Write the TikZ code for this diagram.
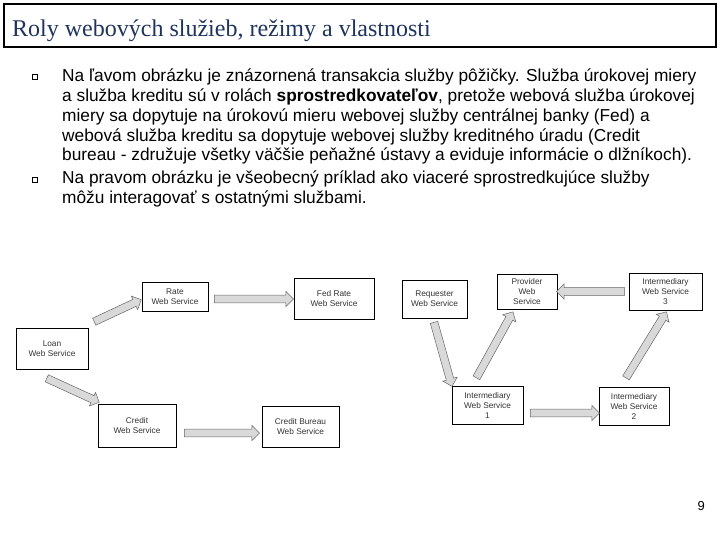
\documentclass[tikz,border=0pt]{standalone}
\usepackage{fontspec}
\setmainfont{Liberation Serif}
\setsansfont{Liberation Sans}
\usetikzlibrary{calc,shapes.arrows}

\definecolor{titleblue}{RGB}{31,52,92}

% block arrow between two points, drawn as a single arrow node
\newcommand{\blkarrow}[2]{%
  \path let \p1=#1, \p2=#2, \n1={veclen(\x2-\x1,\y2-\y1)},
    \n2={atan2(\y2-\y1,\x2-\x1)} in
    ($(\p1)!.5!(\p2)$) node[thickarrow, minimum height=\n1, rotate=\n2] {};}

\begin{document}
\begin{tikzpicture}[x=1pt,y=-1pt,
    svc/.style={draw, line width=1pt, fill=white, align=center, inner sep=1pt,
      font=\sffamily\fontsize{8.3}{10}\selectfont, text=black!80},
    thickarrow/.style={single arrow, draw=black!60, fill=gray!30, line width=0.5pt,
      inner xsep=0pt, inner ysep=3.6pt, single arrow head extend=3.6pt},
    bullet/.style={draw, line width=0.6pt, minimum size=4.5pt, inner sep=0pt}]
    \useasboundingbox (0,0) rectangle (720,540);

    % title
    \draw[line width=1.5pt] (4,4) rectangle (716,47);
    \node[anchor=base west, inner sep=0pt, text=titleblue,
      font=\fontsize{24}{28}\selectfont] (title) at (12,37)
      {Roly webových služieb, režimy a vlastnosti};

    % bullets
    \node[bullet] (b1) at (35,77) {};
    \node[bullet] (b2) at (35,180) {};
    \node[anchor=north west, inner sep=0pt, align=left,
      font=\sffamily\fontsize{17.3}{19.7}\selectfont] (t1) at (62,69)
      {Na ľavom obrázku je znázornená transakcia služby pôžičky. Služba úrokovej miery\\
       a služba kreditu sú v rolách \textbf{sprostredkovateľov}, pretože webová služba úrokovej\\
       miery sa dopytuje na úrokovú mieru webovej služby centrálnej banky (Fed) a\\
       webová služba kreditu sa dopytuje webovej služby kreditného úradu (Credit\\
       bureau - združuje všetky väčšie peňažné ústavy a eviduje informácie o dlžníkoch).};
    \node[anchor=north west, inner sep=0pt, align=left,
      font=\sffamily\fontsize{17.3}{19.7}\selectfont] (t2) at (62,171)
      {Na pravom obrázku je všeobecný príklad ako viaceré sprostredkujúce služby\\
       môžu interagovať s ostatnými službami.};

    % left picture: loan transaction
    \node[svc, minimum width=72pt, minimum height=41pt] (loan) at (52,348.5) {Loan\\Web Service};
    \node[svc, minimum width=66pt, minimum height=29pt] (rate) at (175,296.5) {Rate\\Web Service};
    \node[svc, minimum width=80pt, minimum height=41pt] (fed) at (334,299) {Fed Rate\\Web Service};
    \node[svc, minimum width=78pt, minimum height=43pt] (credit) at (137,425.5) {Credit\\Web Service};
    \node[svc, minimum width=77pt, minimum height=41pt] (bureau) at (300.5,426.5) {Credit Bureau\\Web Service};

    \blkarrow{($(loan.north east)+(4,-5)$)}{($(rate.west)+(-2,4)$)}
    \blkarrow{($(rate.east)+(4,2.5)$)}{($(fed.west)+(-2,0)$)}
    \blkarrow{($(loan.south)+(-7,8)$)}{($(credit.north west)+(0,-2)$)}
    \blkarrow{($(credit.east)+(6,7.5)$)}{($(bureau.west)+(-4,6.5)$)}

    % right picture: intermediaries
    \node[svc, minimum width=65pt, minimum height=38pt] (req) at (434.5,299) {Requester\\Web Service};
    \node[svc, minimum width=60pt, minimum height=35pt] (prov) at (527,291.5) {Provider\\Web\\Service};
    \node[svc, minimum width=73pt, minimum height=37pt] (im3) at (665.5,291.5) {Intermediary\\Web Service\\3};
    \node[svc, minimum width=71pt, minimum height=38pt] (im1) at (487.5,405) {Intermediary\\Web Service\\1};
    \node[svc, minimum width=70pt, minimum height=38pt] (im2) at (634,406) {Intermediary\\Web Service\\2};

    \blkarrow{($(req.south)+(-1,2)$)}{($(im1.north west)+(0,-1)$)}
    \blkarrow{($(im1.north)+(-12,-6)$)}{($(prov.south)+(-15,4)$)}
    \blkarrow{($(im1.east)+(5,8)$)}{($(im2.west)+(-1,7)$)}
    \blkarrow{($(im2.north)+(-9,-7)$)}{($(im3.south)+(0,3)$)}
    \blkarrow{($(im3.west)+(-2,0)$)}{($(prov.east)+(1,0)$)}

    % page number
    \node[anchor=base east, inner sep=0pt, font=\sffamily\fontsize{13}{15}\selectfont] (page) at (705,510) {9};
\end{tikzpicture}
\end{document}
